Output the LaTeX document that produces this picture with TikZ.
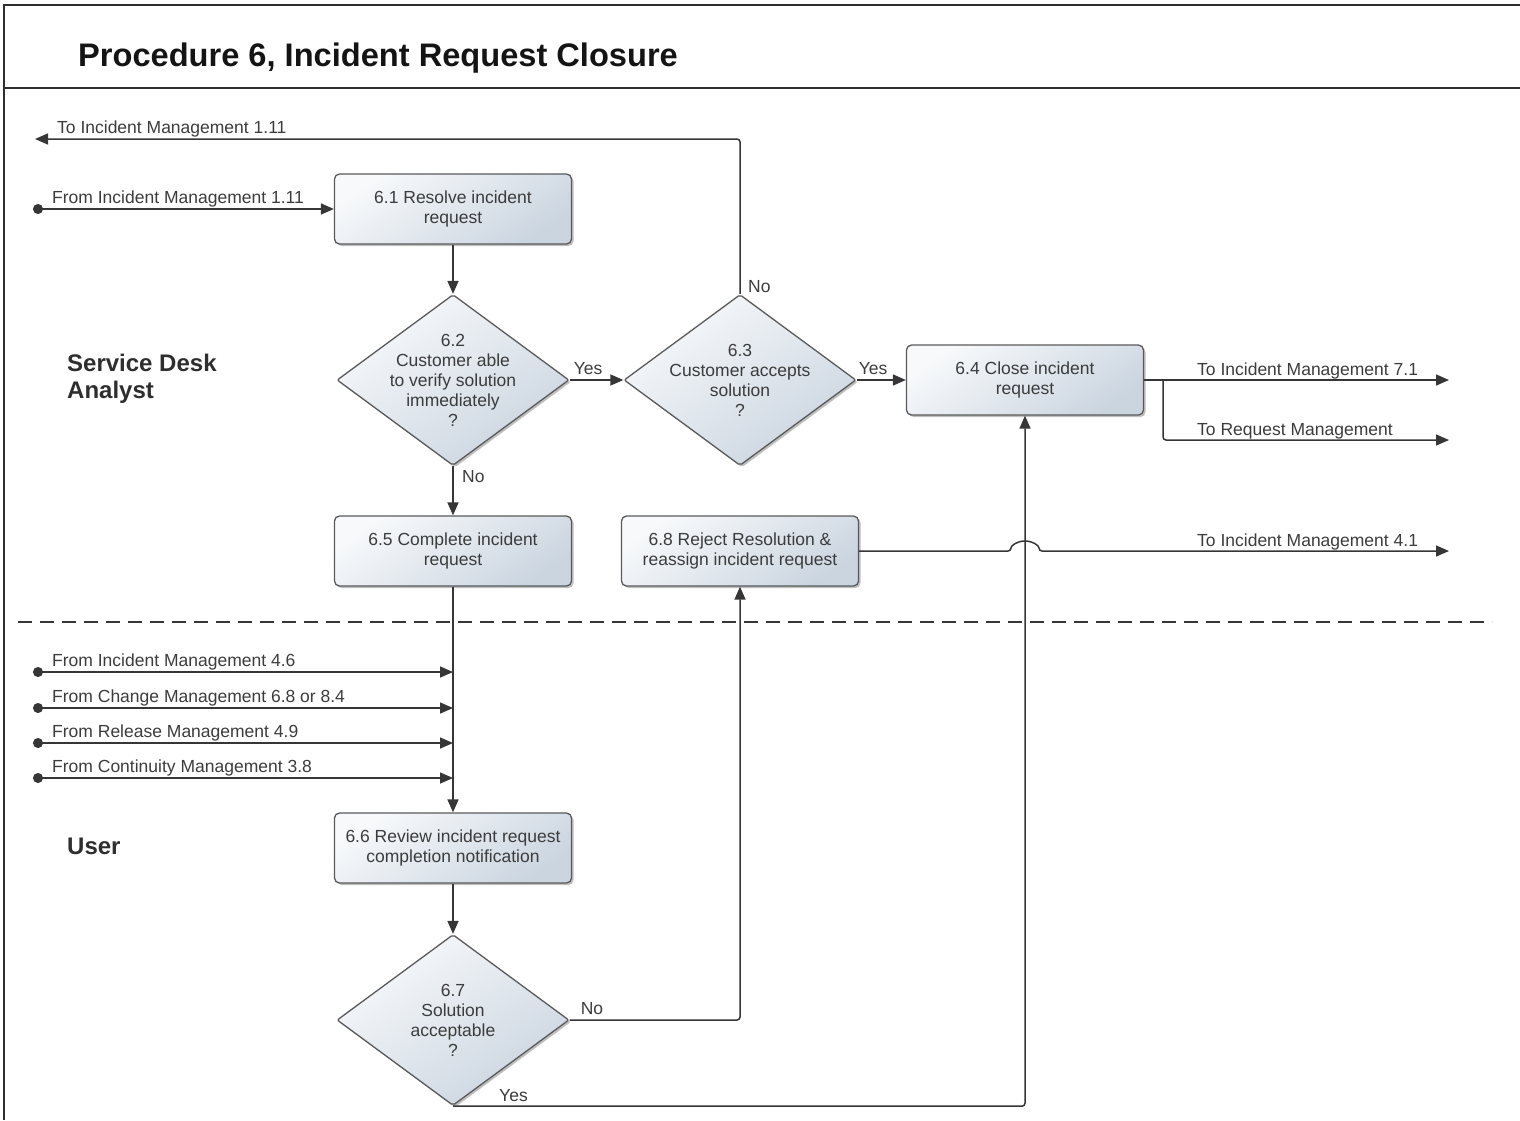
\documentclass[tikz,border=0pt]{standalone}
\usepackage{fontspec}
\setmainfont{Liberation Sans}
\usetikzlibrary{arrows.meta,shapes.geometric,shadows,calc}

\definecolor{ink}{HTML}{363636}
\definecolor{txt}{HTML}{3C3C3C}
\definecolor{framecol}{HTML}{2E2E2E}
\definecolor{fillA}{HTML}{F7F9FB}
\definecolor{fillB}{HTML}{CBD5E0}
\definecolor{edgecol}{HTML}{5A5A5A}

\tikzset{
  every node/.style={text=txt, font=\fontsize{17.5}{20}\selectfont},
  stepbox/.style={draw=edgecol, line width=1.3pt, rounded corners=5pt,
    top color=fillA, bottom color=fillB, shading angle=35,
    minimum width=237pt, minimum height=70pt, inner sep=2pt, align=center,
    drop shadow={shadow xshift=2pt, shadow yshift=-2pt, opacity=0.25, fill=black}},
  decision/.style={diamond, draw=edgecol, line width=1.3pt, rounded corners=2pt,
    top color=fillA, bottom color=fillB, shading angle=35,
    minimum width=232pt, minimum height=171pt, inner sep=0pt,
    drop shadow={shadow xshift=2pt, shadow yshift=-2pt, opacity=0.25, fill=black}},
  qtext/.style={align=center, inner sep=0pt},
  lbl/.style={inner sep=0pt},
  flow/.style={draw=ink, line width=1.5pt, rounded corners=3pt,
    -{Triangle[length=13pt,width=11pt]}},
  source/.style={flow, {Circle[length=10pt]}-{Triangle[length=13pt,width=11pt]}},
  frameline/.style={draw=framecol, line width=2pt},
  lanesep/.style={draw=ink, line width=1.5pt, dash pattern=on 14pt off 8pt},
  lanetitle/.style={font=\fontsize{24}{27}\selectfont\bfseries, text=black!82, align=left, inner sep=0pt},
  heading/.style={font=\fontsize{32.6}{36}\selectfont\bfseries, text=black!92, inner sep=0pt}
}

\begin{document}
\begin{tikzpicture}[x=1pt,y=-1pt]
\useasboundingbox (0,0) rectangle (1520,1120);

% outer frame and title band
\draw[frameline] (4,1120) -- (4,5) -- (1520,5);
\draw[frameline] (4,88) -- (1520,88);
\node[heading, anchor=base west] (title) at (78,66) {Procedure 6, Incident Request Closure};

% swimlanes
\node[lanetitle, anchor=north west] (laneSD) at (67,354) {Service Desk\\Analyst};
\node[lanetitle, anchor=north west] (laneU) at (67,838) {User};
\draw[lanesep] (18,622) -- (1492,622);

% process steps
\node[stepbox] (b61) at (453,209) {6.1 Resolve incident\\request};
\node[decision] (d62) at (453,380) {};
\node[qtext] (t62) at (d62) {6.2\\Customer able\\to verify solution\\immediately\\?};
\node[decision] (d63) at (740,380) {};
\node[qtext] (t63) at (d63) {6.3\\Customer accepts\\solution\\?};
\node[stepbox] (b64) at (1025,380) {6.4 Close incident\\request};
\node[stepbox] (b65) at (453,551) {6.5 Complete incident\\request};
\node[stepbox] (b68) at (740,551) {6.8 Reject Resolution \&\\reassign incident request};
\node[stepbox] (b66) at (453,848) {6.6 Review incident request\\completion notification};
\node[decision] (d67) at (453,1020) {};
\node[qtext] (t67) at (d67) {6.7\\Solution\\acceptable\\?};

% off-page ends
\coordinate (in111) at (33,209);
\coordinate (out111) at (35,139);
\coordinate (out71) at (1449,380);
\coordinate (outRM) at (1449,440);
\coordinate (out41) at (1449,551);
\coordinate (br) at (1163,380);
\coordinate (s1) at (33,672);
\coordinate (s2) at (33,708);
\coordinate (s3) at (33,743);
\coordinate (s4) at (33,778);

% connectors
\draw[source] (in111) -- (b61);
\draw[flow] (b61) -- (d62);
\draw[flow] (d62) -- (d63);
\draw[flow] (d63) -- (b64);
\draw[flow] (d62) -- (b65);
\draw[flow] (d63.north) |- (out111);
\draw[flow] (b64.east) -- (out71);
\draw[flow] (br) |- (outRM);
\draw[flow] (b68.east) -- ($(b68.east -| b64.south)+(-14pt,0)$)
  arc[start angle=180, end angle=0, x radius=14pt, y radius=10pt] -- (out41);
\draw[flow] (b65) -- (b66);
\draw[source] (s1) -- (s1 -| b65.south);
\draw[source] (s2) -- (s2 -| b65.south);
\draw[source] (s3) -- (s3 -| b65.south);
\draw[source] (s4) -- (s4 -| b65.south);
\draw[flow] (b66) -- (d67);
\draw[flow] (d67.east) -| (b68.south);
\draw[flow] (d67.south) -| (b64.south);

% connector labels
\node[lbl, anchor=base west] (lin111) at ($(in111)+(19,-6)$) {From Incident Management 1.11};
\node[lbl, anchor=base west] (lout111) at ($(out111)+(22,-6)$) {To Incident Management 1.11};
\node[lbl, anchor=base west] (lout71) at (1197,375) {To Incident Management 7.1};
\node[lbl, anchor=base west] (loutRM) at (1197,435) {To Request Management};
\node[lbl, anchor=base west] (lout41) at (1197,546) {To Incident Management 4.1};
\node[lbl, anchor=base west] (ls1) at ($(s1)+(19,-6)$) {From Incident Management 4.6};
\node[lbl, anchor=base west] (ls2) at ($(s2)+(19,-6)$) {From Change Management 6.8 or 8.4};
\node[lbl, anchor=base west] (ls3) at ($(s3)+(19,-6)$) {From Release Management 4.9};
\node[lbl, anchor=base west] (ls4) at ($(s4)+(19,-6)$) {From Continuity Management 3.8};
\node[lbl, anchor=base west] (y62) at ($(d62.east)+(4,-6)$) {Yes};
\node[lbl, anchor=base west] (y63) at ($(d63.east)+(2,-6)$) {Yes};
\node[lbl, anchor=base west] (n62) at ($(d62.south)+(9,16)$) {No};
\node[lbl, anchor=base west] (n63) at ($(d63.north)+(8,-1)$) {No};
\node[lbl, anchor=base west] (n67) at ($(d67.east)+(11,-6)$) {No};
\node[lbl, anchor=base west] (y67) at ($(d67.south)+(46,-5)$) {Yes};
\end{tikzpicture}
\end{document}
